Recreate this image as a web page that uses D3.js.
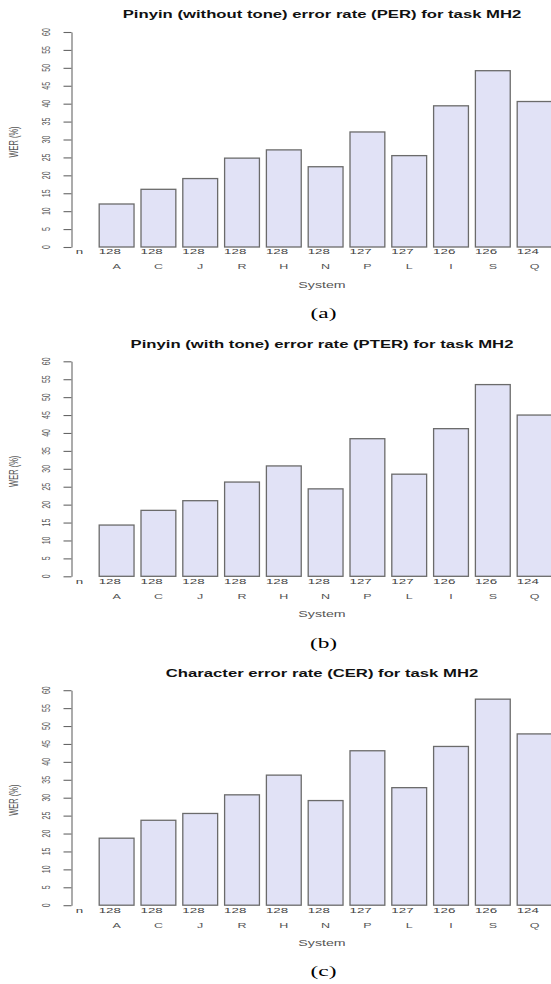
<!DOCTYPE html>
<html>
<head>
<meta charset="utf-8">
<script src="https://cdn.jsdelivr.net/npm/d3@7"></script>
<style>
  html, body { margin: 0; padding: 0; background: #fff; }
  svg { display: block; }
</style>
</head>
<body>
<script>
// ---- data ----
const systems = ["A","C","J","R","H","N","P","L","I","S","Q"];
const counts  = [128,128,128,128,128,128,127,127,126,126,124];
const perValues  = [12.0,16.1,19.1,24.8,27.1,22.4,32.1,25.5,39.4,49.2,40.6];
const pterValues = [14.3,18.4,21.1,26.3,30.8,24.4,38.4,28.5,41.2,53.5,45.0];
const cerValues  = [18.7,23.7,25.6,30.8,36.3,29.2,43.1,32.8,44.3,57.5,47.8];
const yTicks = [0,5,10,15,20,25,30,35,40,45,50,55,60];
const titles = [
  "Pinyin (without tone) error rate (PER) for task MH2",
  "Pinyin (with tone) error rate (PTER) for task MH2",
  "Character error rate (CER) for task MH2"
];
const captions = ["(a)","(b)","(c)"];
const seriesList = [perValues, pterValues, cerValues];
const yLabel = "WER (%)";
const xLabel = "System";
const countLabel = "n";

// ---- layout ----
const W = 551, H = 984;
const SX = 1.67;               // horizontal stretch of the source image
const SANS = "'Liberation Sans', Arial, Helvetica, sans-serif";
const SERIF = "'Liberation Serif', 'Times New Roman', serif";
const panelOffsets = [0, 329.3, 658.2];
const axisX = 71.5;
const step = 41.8;
const barLeft0 = 99.2;

const svg = d3.select("body").append("svg")
  .attr("width", W).attr("height", H)
  .attr("viewBox", `0 0 ${W} ${H}`);

const x = d3.scaleBand()
  .domain(systems)
  .range([barLeft0 - step/12, barLeft0 - step/12 + step*systems.length])
  .paddingInner(1/6)
  .paddingOuter(1/12);

function stretched(g, txt, px, py, opts) {
  const o = opts || {};
  return g.append("text")
    .attr("transform", `translate(${px},${py}) scale(${SX},1)` + (o.rot ? " rotate(-90)" : ""))
    .attr("text-anchor", o.anchor || "middle")
    .attr("dy", o.dy || "0.35em")
    .attr("font-family", o.family || SANS)
    .attr("font-size", o.size || 8)
    .attr("font-weight", o.weight || "normal")
    .attr("fill", o.fill || "#444")
    .text(txt);
}

seriesList.forEach((vals, pi) => {
  const off = panelOffsets[pi];
  const g = svg.append("g");
  const y = d3.scaleLinear().domain([0, 60]).range([off + 247, off + 32]);

  // title
  stretched(g, titles[pi], 322, off + 14.8, {size: 10, weight: "bold", fill: "#111"});

  // bars
  g.selectAll("rect.bar").data(vals).enter().append("rect")
    .attr("class", "bar")
    .attr("x", (d, i) => x(systems[i]))
    .attr("width", x.bandwidth())
    .attr("y", d => y(d))
    .attr("height", d => y(0) - y(d))
    .attr("fill", "#e1e2f6")
    .attr("stroke", "#6b6b6b")
    .attr("stroke-width", 1.3);

  // y axis
  const ax = g.append("g")
    .attr("transform", `translate(${axisX},0)`)
    .call(d3.axisLeft(y).tickValues(yTicks).tickSize(8).tickSizeOuter(0));
  ax.select(".domain").attr("stroke", "#666").attr("stroke-width", 1.1);
  ax.selectAll(".tick line").attr("stroke", "#666").attr("stroke-width", 1.1);
  ax.selectAll(".tick text").remove();
  yTicks.forEach(t => {
    stretched(g, String(t), axisX - 25.7, y(t), {rot: true, size: 7, fill: "#555"});
  });

  // y label
  stretched(g, yLabel, 13.5, off + 142, {rot: true, size: 7.5, fill: "#555"});

  // counts row
  stretched(g, countLabel, 79.5, y(0) + 4.5, {size: 8, fill: "#444"});
  g.selectAll(null).data(counts).enter().each(function(d, i) {
    stretched(g, String(d), x(systems[i]) - 0.5, y(0) + 4.5, {anchor: "start", size: 8, fill: "#444"});
  });

  // category labels
  systems.forEach(s => {
    stretched(g, s, x(s) + x.bandwidth()/2, y(0) + 19.8, {size: 7.5, fill: "#555"});
  });

  // x label
  stretched(g, xLabel, 322, y(0) + 38.2, {size: 8.5, fill: "#555"});

  // caption
  stretched(g, captions[pi], 323.5, off + 313.3, {size: 14, family: SERIF, fill: "#000"});
});
</script>
</body>
</html>
